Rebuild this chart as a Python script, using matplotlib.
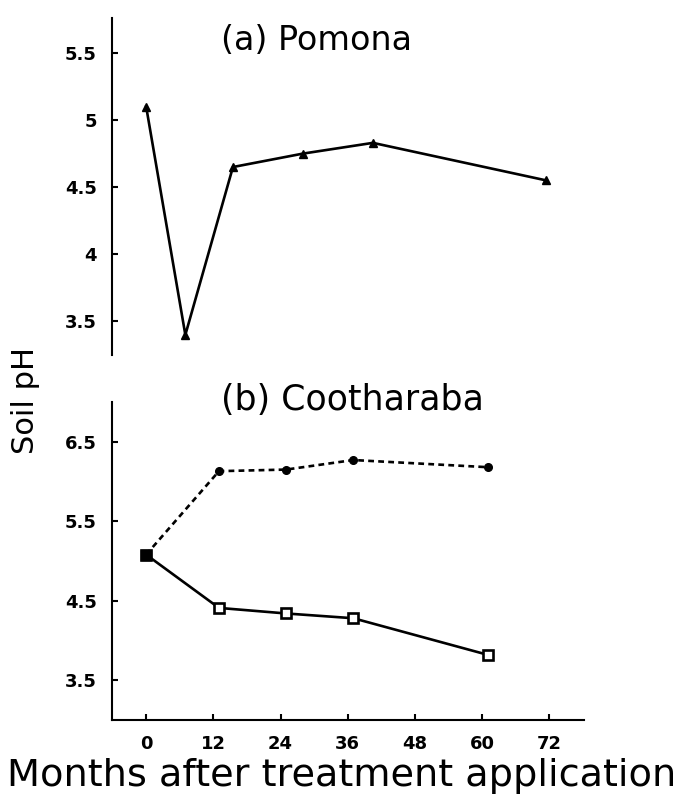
import matplotlib
matplotlib.use("Agg")
import matplotlib.pyplot as plt
from matplotlib import font_manager as fm

# ---- data ----
pomona_months = [0, 7, 15.5, 28, 40.5, 71.5]
pomona_ph = [5.1, 3.4, 4.65, 4.75, 4.83, 4.55]

cooth_months = [0, 13, 25, 37, 61]
cooth_dashed_ph = [5.08, 6.13, 6.15, 6.27, 6.18]
cooth_solid_ph = [5.08, 4.41, 4.34, 4.28, 3.82]

x_ticks = [0, 12, 24, 36, 48, 60, 72]
top_yticks = [3.5, 4, 4.5, 5, 5.5]
top_yticklabels = ["3.5", "4", "4.5", "5", "5.5"]
bot_yticks = [3.5, 4.5, 5.5, 6.5]
bot_yticklabels = ["3.5", "4.5", "5.5", "6.5"]

avail = {f.name for f in fm.fontManager.ttflist}
tick_family = [f for f in ["Liberation Sans Narrow", "DejaVu Sans Condensed", "DejaVu Sans"] if f in avail]
text_family = ["DejaVu Sans"]

fig = plt.figure(figsize=(6.85, 8.01), dpi=100)
ax1 = fig.add_axes([112/685, 1-355/801, (584-112)/685, (355-18)/801])
ax2 = fig.add_axes([112/685, 1-720/801, (584-112)/685, (720-402)/801])

xlim = (-6.1, 78.2)

ax1.plot(pomona_months, pomona_ph, color="black", lw=1.9, marker="^", ms=6)
ax1.set_xlim(*xlim)
ax1.set_ylim(3.25, 5.76)
for s in ["top", "right", "bottom"]:
    ax1.spines[s].set_visible(False)
ax1.spines["left"].set_linewidth(1.5)
ax1.set_xticks([])
ax1.set_yticks(top_yticks)
ax1.set_yticklabels(top_yticklabels)

ax2.plot(cooth_months, cooth_dashed_ph, color="black", lw=1.9, ls=(0, (2.2, 1.6)),
         marker="o", ms=5.5)
ax2.plot(cooth_months, cooth_solid_ph, color="black", lw=1.9, marker="s", ms=6.5,
         mfc="white", mew=1.9)
ax2.plot(cooth_months[:1], cooth_solid_ph[:1], color="black", marker="s", ms=7.5, ls="none")
ax2.set_xlim(*xlim)
ax2.set_ylim(3.0, 7.0)
for s in ["top", "right"]:
    ax2.spines[s].set_visible(False)
ax2.spines["left"].set_linewidth(1.5)
ax2.spines["bottom"].set_linewidth(1.5)
ax2.set_xticks(x_ticks)
ax2.set_xticklabels([str(v) for v in x_ticks])
ax2.set_yticks(bot_yticks)
ax2.set_yticklabels(bot_yticklabels)

for ax in (ax1, ax2):
    ax.tick_params(direction="in", length=4, width=1.5, labelsize=13, pad=11)
    for lab in ax.get_xticklabels() + ax.get_yticklabels():
        lab.set_family(tick_family)
        lab.set_fontweight("bold")
ax2.tick_params(axis="x", pad=11)

fig.text(221/685, 1-40/801, "(a) Pomona", family=text_family, fontsize=24,
         ha="left", va="center")
fig.text(221/685, 1-400/801, "(b) Cootharaba", family=text_family, fontsize=25,
         ha="left", va="center")
fig.text(26/685, 1-400/801, "Soil pH", family=text_family, fontsize=22,
         rotation=90, ha="center", va="center")
fig.text(342/685, 1-776/801, "Months after treatment application", family=text_family,
         fontsize=27.5, ha="center", va="center")

fig.savefig("out.png", dpi=100)
